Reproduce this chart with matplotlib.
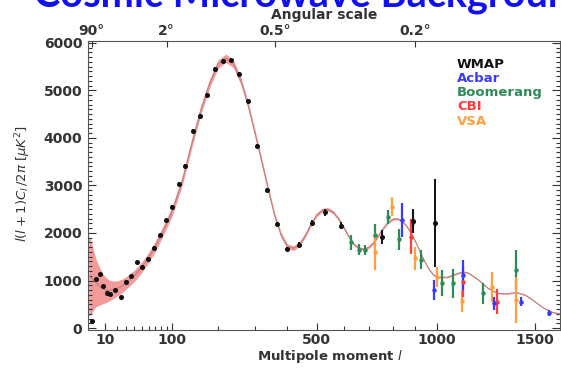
import numpy as np
import matplotlib
matplotlib.use("Agg")
import matplotlib.pyplot as plt
from matplotlib.ticker import FixedLocator, MultipleLocator, NullFormatter

W, H = 561, 368

# best-fit model curve, l and l(l+1)C_l/2pi in uK^2
model_l = [1, 2, 3, 4, 6, 8, 10, 13, 16, 20, 25, 30, 40, 50, 60, 70, 80, 90, 100,
           120, 140, 160, 180, 200, 220, 240, 260, 280, 300, 320, 340, 360, 380,
           400, 420, 440, 460, 480, 500, 520, 540, 560, 580, 600, 620, 640, 660,
           680, 700, 720, 740, 760, 780, 800, 820, 840, 860, 880, 900, 920, 940,
           960, 980, 1000, 1050, 1100, 1125, 1150, 1200, 1250, 1300, 1350, 1400,
           1450, 1500, 1550, 1600, 1650]
model_d = [1100, 1050, 1000, 950, 880, 830, 800, 790, 800, 830, 880, 950, 1100, 1280,
           1480, 1700, 1950, 2200, 2450, 3100, 3900, 4600, 5150, 5550, 5680, 5560,
           5200, 4700, 4100, 3500, 2900, 2350, 1950, 1720, 1680, 1760, 1950, 2180,
           2380, 2480, 2500, 2440, 2300, 2120, 1920, 1760, 1680, 1660, 1700, 1800,
           1950, 2100, 2220, 2290, 2300, 2250, 2150, 2000, 1820, 1620, 1420, 1250,
           1130, 1070, 1070, 1150, 1180, 1160, 1020, 840, 730, 720, 750, 690, 560,
           420, 330, 290]
# half width of the pink band at the same l values
band_l = [1, 2, 3, 4, 6, 8, 10, 13, 16, 20, 30, 50, 100, 200, 300, 400, 600, 1000, 1650]
band_w = [850, 750, 600, 500, 400, 320, 270, 220, 190, 160, 130, 110, 100, 90, 70, 50, 30, 15, 10]

wmap_l = [2, 4, 6, 8, 11, 14, 18, 24, 30, 36, 43, 50, 59, 68, 78, 89, 100, 114, 126,
          142, 158, 173, 194, 212, 233, 255, 280, 307, 335, 366, 400, 439, 482, 531,
          590, 754, 891, 989]
wmap_d = [150, 1025, 1130, 884, 745, 710, 800, 646, 975, 1095, 1383, 1278, 1446, 1690,
          1950, 2274, 2554, 3040, 3420, 4154, 4463, 4905, 5459, 5628, 5642, 5347, 4785,
          3832, 2905, 2183, 1663, 1754, 2204, 2435, 2154, 1909, 2253, 2204]
wmap_e = [30, 30, 30, 30, 30, 30, 30, 30, 30, 30, 30, 30, 30, 30, 30, 30, 30, 30, 30,
          40, 40, 40, 40, 40, 40, 40, 40, 40, 40, 40, 50, 50, 60, 70, 80, 150, 250, 930]

boom_l = [627, 660, 685, 724, 778, 825, 890, 926, 1025, 1076, 1224, 1398]
boom_d = [1800, 1650, 1640, 1958, 2344, 1867, 2239, 1432, 941, 941, 730, 1221]
boom_e = [150, 110, 110, 230, 150, 220, 240, 200, 270, 300, 220, 430]

vsa_l = [724, 797, 900, 1000, 1119, 1272, 1400]
vsa_d = [1607, 2554, 1466, 1081, 572, 870, 590]
vsa_e = [386, 200, 245, 210, 230, 316, 490]

acbar_l = [842, 985, 1125, 1280, 1426, 1578]
acbar_d = [2274, 800, 1116, 520, 554, 309]
acbar_e = [350, 210, 316, 140, 100, 60]

cbi_l = [880, 1125, 1296]
cbi_d = [1922, 975, 554]
cbi_e = [370, 315, 260]

ang_l = [2, 90, 360, 900]
ang_lab = ["90°", "2°", "0.5°", "0.2°"]
xmajor = [10, 100, 500, 1000, 1500]
xminor = [20, 30, 40, 50, 60, 70, 80, 90, 200, 300, 400, 600, 700, 800, 900]

legend_names = ["WMAP", "Acbar", "Boomerang", "CBI", "VSA"]
legend_cols = ["#111111", "#3a3aff", "#2e8b57", "#ff3b3b", "#ffa040"]

fwd = lambda l: np.power(np.clip(l, 0, None), 0.6)
inv = lambda u: np.power(np.clip(u, 0, None), 1 / 0.6)

fig = plt.figure(figsize=(W / 100, H / 100), dpi=100)
ax = fig.add_axes([88 / W, 1 - 330 / H, 472 / W, 289.3 / H])
ax.set_xscale("function", functions=(fwd, inv))
ax.set_xlim(0.8, 1643)
ax.set_ylim(-42, 6048)

# model and cosmic variance band
bw = np.interp(model_l, band_l, band_w)
md = np.array(model_d)
ax.fill_between(model_l, md - bw, md + bw, color="#f39a9a", lw=0, zorder=1)
ax.plot(model_l, model_d, color="#c08080", lw=0.8, zorder=2)

kw = dict(fmt="o", ms=2.2, elinewidth=1.6, capsize=0, zorder=3)
ax.errorbar(boom_l, boom_d, yerr=boom_e, color=legend_cols[2], mfc=legend_cols[2], **kw)
ax.errorbar(vsa_l, vsa_d, yerr=vsa_e, color=legend_cols[4], mfc=legend_cols[4], **kw)
ax.errorbar(cbi_l, cbi_d, yerr=cbi_e, color=legend_cols[3], mfc=legend_cols[3], **kw)
ax.errorbar(acbar_l, acbar_d, yerr=acbar_e, color=legend_cols[1], mfc=legend_cols[1], **kw)
ax.errorbar(wmap_l, wmap_d, yerr=wmap_e, color="#111111", fmt="o", ms=2.6,
            elinewidth=1.4, capsize=0, zorder=4)

for s in ax.spines.values():
    s.set_color("#555555"); s.set_linewidth(0.8)

ax.xaxis.set_major_locator(FixedLocator(xmajor))
ax.xaxis.set_minor_locator(FixedLocator(xminor))
ax.xaxis.set_minor_formatter(NullFormatter())
ax.set_xticklabels([str(v) for v in xmajor])
ax.yaxis.set_major_locator(MultipleLocator(1000))
ax.yaxis.set_minor_locator(MultipleLocator(100))
ax.tick_params(axis="both", which="both", direction="in", colors="#333333",
               labelsize=10, width=0.8)
ax.tick_params(axis="x", which="major", length=5, pad=2, top=False)
ax.tick_params(axis="x", which="minor", length=3, top=False)
ax.tick_params(axis="y", which="major", length=6, pad=4, right=True)
ax.tick_params(axis="y", which="minor", length=3, right=True)
for t in ax.get_xticklabels() + ax.get_yticklabels():
    t.set_fontweight("bold")

top = ax.twiny()
top.set_xscale("function", functions=(fwd, inv))
top.set_xlim(ax.get_xlim())
top.set_xticks(ang_l)
top.set_xticklabels(ang_lab, fontsize=10, fontweight="bold", color="#333333")
top.xaxis.set_minor_locator(FixedLocator([]))
top.tick_params(axis="x", direction="in", length=4, pad=2, colors="#333333")
for s in top.spines.values():
    s.set_visible(False)

ax.set_xlabel(r"Multipole moment $l$", fontsize=9.5, fontweight="bold", color="#333333")
ax.xaxis.set_label_coords((330 - 88) / 472, (330 - 348) / 289.3)
ax.set_ylabel(r"$l(l+1)C_l\,/2\pi\ [\mu K^2]$", fontsize=9.5, color="#333333")
ax.yaxis.set_label_coords((33 - 88) / 472, (330 - 184) / 289.3)

fig.text(324 / W, 1 - 15 / H, "Angular scale", ha="center", va="center",
         fontsize=10, fontweight="bold", color="#333333")
fig.text(34 / W, 1 - 7 / H, "Cosmic Microwave Background", ha="left", va="baseline",
         fontsize=28.5, fontweight="bold", color="#1010f0", family="Lato")

for i, (name, c) in enumerate(zip(legend_names, legend_cols)):
    fig.text(457 / W, 1 - (64 + 14.3 * i) / H, name, ha="left", va="center",
             fontsize=9.5, fontweight="bold", color=c)

fig.savefig("out.png", dpi=100)
